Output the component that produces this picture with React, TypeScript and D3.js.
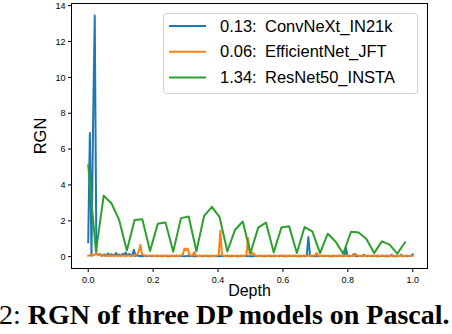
import React from "react";
import * as d3 from "d3";

const W = 452;
const H = 334;

const seriesNames = ["ConvNeXt_IN21k", "EfficientNet_JFT", "ResNet50_INSTA"];
const seriesScores = ["0.13:", "0.06:", "1.34:"];
const seriesColors = ["#1f77b4", "#ff7f0e", "#2ca02c"];

const xTicks = [0, 0.2, 0.4, 0.6, 0.8, 1.0];
const yTicks = [0, 2, 4, 6, 8, 10, 12, 14];

// ConvNeXt_IN21k RGN per layer (200 layers, depth = i / 199)
const convnextRGN = [
  0.8, 6.9, 0.05, 7.6, 13.45, 0.2, 0.08, 0.15, 0.05, 0.1,
  0.12, 0.04, 0.18, 0.06, 0.14, 0.1, 0.05, 0.2, 0.08, 0.12,
  0.05, 0.16, 0.1, 0.22, 0.08, 0.15, 0.1, 0.06, 0.38, 0.04,
  0.08, 0.03, 0.05, 0.02, 0.04, 0.06, 0.02, 0.03, 0.05, 0.02,
  0.03, 0.04, 0.02, 0.06, 0.03, 0.02, 0.04, 0.05, 0.02, 0.03,
  0.02, 0.04, 0.03, 0.02, 0.05, 0.03, 0.02, 0.04, 0.03, 0.02,
  0.03, 0.05, 0.02, 0.03, 0.04, 0.02, 0.03, 0.02, 0.04, 0.03,
  0.02, 0.03, 0.05, 0.02, 0.03, 0.02, 0.04, 0.03, 0.02, 0.03,
  0.02, 0.04, 0.03, 0.02, 0.03, 0.05, 0.02, 0.03, 0.02, 0.04,
  0.03, 0.02, 0.03, 0.02, 0.04, 0.03, 0.02, 0.05, 0.03, 0.02,
  0.03, 0.02, 0.04, 0.03, 0.02, 0.03, 0.05, 0.02, 0.03, 0.02,
  0.04, 0.03, 0.02, 0.03, 0.02, 0.04, 0.03, 0.02, 0.05, 0.03,
  0.02, 0.03, 0.02, 0.04, 0.03, 0.02, 0.03, 0.05, 0.02, 0.03,
  0.02, 0.04, 0.03, 0.02, 0.05, 1.09, 0.04, 0.02, 0.03, 0.02,
  0.04, 0.03, 0.02, 0.05, 0.03, 0.02, 0.03, 0.04, 0.02, 0.03,
  0.02, 0.04, 0.03, 0.02, 0.05, 0.03, 0.02, 0.04, 0.48, 0.03,
  0.02, 0.04, 0.03, 0.15, 0.03, 0.02, 0.04, 0.03, 0.02, 0.1,
  0.03, 0.02, 0.04, 0.03, 0.02, 0.03, 0.05, 0.02, 0.03, 0.02,
  0.04, 0.03, 0.02, 0.03, 0.02, 0.04, 0.1, 0.02, 0.03, 0.02,
  0.04, 0.03, 0.1, 0.02, 0.03, 0.04, 0.02, 0.03, 0.05, 0.12,
];

// EfficientNet_JFT RGN per layer (200 layers, depth = i / 199)
const efficientnetRGN = [
  0.05, 0.08, 0.1, 0.06, 0.12, 0.2, 0.08, 0.1, 0.06, 0.08,
  0.04, 0.06, 0.05, 0.08, 0.04, 0.06, 0.05, 0.07, 0.04, 0.06,
  0.05, 0.08, 0.04, 0.06, 0.05, 0.07, 0.04, 0.06, 0.05, 0.1,
  0.12, 0.3, 0.65, 0.15, 0.08, 0.06, 0.05, 0.07, 0.04, 0.06,
  0.05, 0.04, 0.06, 0.05, 0.04, 0.06, 0.05, 0.04, 0.06, 0.05,
  0.04, 0.06, 0.05, 0.04, 0.06, 0.05, 0.04, 0.06, 0.1, 0.45,
  0.38, 0.45, 0.12, 0.05, 0.08, 0.25, 0.06, 0.04, 0.05, 0.04,
  0.06, 0.05, 0.04, 0.06, 0.05, 0.04, 0.06, 0.05, 0.04, 0.06,
  0.1, 1.44, 0.1, 0.05, 0.04, 0.06, 0.05, 0.04, 0.06, 0.05,
  0.04, 0.06, 0.05, 0.04, 0.06, 0.05, 0.04, 0.1, 1.04, 0.15,
  0.1, 0.22, 0.08, 0.05, 0.04, 0.06, 0.05, 0.04, 0.06, 0.05,
  0.04, 0.06, 0.05, 0.04, 0.06, 0.05, 0.04, 0.06, 0.05, 0.04,
  0.06, 0.05, 0.04, 0.06, 0.05, 0.04, 0.06, 0.05, 0.04, 0.06,
  0.05, 0.04, 0.06, 0.05, 0.04, 0.06, 0.05, 0.04, 0.06, 0.05,
  0.2, 0.06, 0.05, 0.04, 0.06, 0.05, 0.04, 0.06, 0.05, 0.04,
  0.06, 0.05, 0.04, 0.06, 0.05, 0.04, 0.06, 0.05, 0.04, 0.06,
  0.05, 0.04, 0.06, 0.05, 0.15, 0.06, 0.05, 0.04, 0.06, 0.05,
  0.04, 0.06, 0.05, 0.04, 0.06, 0.05, 0.04, 0.06, 0.05, 0.04,
  0.06, 0.05, 0.04, 0.06, 0.05, 0.04, 0.06, 0.05, 0.04, 0.06,
  0.05, 0.04, 0.06, 0.05, 0.04, 0.06, 0.05, 0.04, 0.06, 0.05,
];

// ResNet50_INSTA RGN per layer (depth = i / 42)
const resnetRGN = [
  5.1, 0.3, 3.4, 2.98, 2.05, 0.35, 2.05, 2.09, 0.32, 1.83,
  1.91, 0.28, 2.15, 2.24, 0.3, 2.28, 2.78, 2.2, 0.3, 1.5,
  1.96, 0.2, 1.62, 1.9, 0.24, 1.63, 1.69, 0.2, 1.65, 1.41,
  0.2, 1.28, 0.85, 0.17, 1.39, 1.35, 0.98, 0.2, 0.85, 0.67,
  0.17, 0.8,
];

const seriesData = [
  convnextRGN.map((v, i) => [i / (convnextRGN.length - 1), v]),
  efficientnetRGN.map((v, i) => [i / (efficientnetRGN.length - 1), v]),
  resnetRGN.map((v, i) => [i / 42, v]),
];

export default function App() {
  const left = 71.5;
  const right = 427.5;
  const top = 3.5;
  const bottom = 268.5;

  const x = d3.scaleLinear().domain([-0.05, 1.05]).range([left + 0.5, right + 1.5]);
  const y = d3.scaleLinear().domain([-0.66, 14.12]).range([bottom, top]);

  const line = d3
    .line<number[]>()
    .x((d) => x(d[0]))
    .y((d) => y(d[1]));

  const sans = "'Liberation Sans', Arial, Helvetica, sans-serif";
  const serif = "'Liberation Serif', 'Times New Roman', serif";

  return (
    <svg
      width={W}
      height={H}
      style={{ position: "absolute", left: 0, top: 0, background: "#fff" }}
    >
      <defs>
        <clipPath id="plotclip">
          <rect x={left} y={top} width={right - left} height={bottom - top} />
        </clipPath>
      </defs>
      <rect x={0} y={0} width={W} height={H} fill="#fff" />

      <g clipPath="url(#plotclip)">
        {seriesData.map((data, k) => (
          <path
            key={k}
            d={line(data) || ""}
            fill="none"
            stroke={seriesColors[k]}
            strokeWidth={2}
            strokeLinejoin="round"
            strokeLinecap="square"
          />
        ))}
      </g>

      {/* spines */}
      <rect
        x={left}
        y={top}
        width={right - left}
        height={bottom - top}
        fill="none"
        stroke="#000"
        strokeWidth={1}
      />

      {/* y ticks */}
      {yTicks.map((t) => (
        <g key={"y" + t}>
          <line x1={left - 3.5} x2={left} y1={y(t)} y2={y(t)} stroke="#000" strokeWidth={1} />
          <text
            x={left - 6}
            y={y(t)}
            dy="0.35em"
            textAnchor="end"
            fontFamily={sans}
            fontSize={9}
            fill="#000"
          >
            {String(t)}
          </text>
        </g>
      ))}

      {/* x ticks */}
      {xTicks.map((t) => (
        <g key={"x" + t}>
          <line x1={x(t)} x2={x(t)} y1={bottom} y2={bottom + 3.5} stroke="#000" strokeWidth={1} />
          <text
            x={x(t)}
            y={bottom + 14.5}
            textAnchor="middle"
            fontFamily={sans}
            fontSize={9}
            fill="#000"
          >
            {t.toFixed(1)}
          </text>
        </g>
      ))}

      {/* axis labels */}
      <text
        x={(left + right) / 2}
        y={295.5}
        textAnchor="middle"
        fontFamily={sans}
        fontSize={16}
        fill="#000"
      >
        Depth
      </text>
      <text
        transform={`translate(46, ${(top + bottom) / 2}) rotate(-90)`}
        textAnchor="middle"
        fontFamily={sans}
        fontSize={16.5}
        fill="#000"
      >
        RGN
      </text>

      {/* legend */}
      <rect
        x={163.5}
        y={13.5}
        width={254}
        height={80}
        rx={3}
        ry={3}
        fill="#fff"
        fillOpacity={0.8}
        stroke="#d0d0d0"
        strokeWidth={1}
      />
      {seriesNames.map((name, k) => {
        const ry = 26 + k * 25.7;
        return (
          <g key={name}>
            <line x1={169} x2={206} y1={ry} y2={ry} stroke={seriesColors[k]} strokeWidth={2} />
            <text x={220} y={ry} dy="0.35em" fontFamily={sans} fontSize={16.5} fill="#000">
              {seriesScores[k]}
            </text>
            <text x={265} y={ry} dy="0.35em" fontFamily={sans} fontSize={16.5} fill="#000">
              {name}
            </text>
          </g>
        );
      })}

      {/* caption */}
      <text x={-1} y={324} fontFamily={serif} fontSize={28} fill="#000">
        <tspan>2: </tspan>
        <tspan fontWeight="bold">RGN of three DP models on Pascal.</tspan>
      </text>
    </svg>
  );
}
